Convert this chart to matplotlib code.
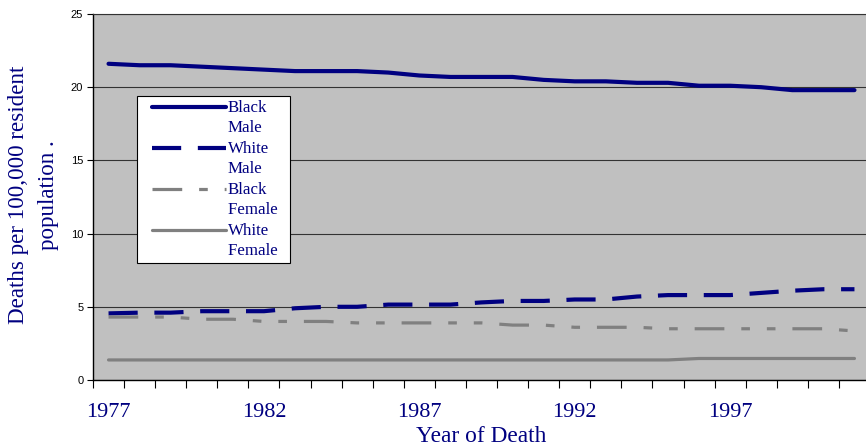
import matplotlib
matplotlib.use("Agg")
import numpy as np
import matplotlib.pyplot as plt
from matplotlib.legend_handler import HandlerLine2D

years = list(range(1977, 2002))
black_male = [21.6, 21.5, 21.5, 21.4, 21.3, 21.2, 21.1, 21.1, 21.1, 21.0, 20.8, 20.7, 20.7,
              20.7, 20.5, 20.4, 20.4, 20.3, 20.3, 20.1, 20.1, 20.0, 19.8, 19.8, 19.8]
white_male = [4.55, 4.6, 4.6, 4.7, 4.7, 4.7, 4.9, 5.0, 5.0, 5.15, 5.15, 5.15, 5.3,
              5.4, 5.4, 5.5, 5.5, 5.7, 5.8, 5.8, 5.8, 5.95, 6.1, 6.2, 6.2]
black_female = [4.3, 4.3, 4.3, 4.15, 4.15, 4.0, 4.0, 4.0, 3.9, 3.9, 3.9, 3.9, 3.9,
                3.75, 3.75, 3.6, 3.6, 3.6, 3.5, 3.5, 3.5, 3.5, 3.5, 3.5, 3.35]
white_female = [1.37] * 19 + [1.47] * 6
series_labels = ["Black\nMale", "White\nMale", "Black\nFemale  ", "White\nFemale  "]
yticks = [0, 5, 10, 15, 20, 25]
label_years = [1977, 1982, 1987, 1992, 1997]

navy = "#000080"
gray = "#808080"


class UpHandler(HandlerLine2D):
    def __init__(self, dx, dy, **kw):
        super().__init__(**kw)
        self.dx = dx
        self.dy = dy

    def create_artists(self, legend, orig_handle, xdescent, ydescent, width, height,
                       fontsize, trans):
        arts = super().create_artists(legend, orig_handle, xdescent, ydescent, width,
                                      height, fontsize, trans)
        for a in arts:
            xd = np.asarray(a.get_xdata(), dtype=float)
            x0, x1 = -xdescent, width - xdescent
            a.set_xdata(x0 + self.dx + (xd - x0) * (x1 - x0 - self.dx) / (x1 - x0))
            a.set_ydata(np.asarray(a.get_ydata(), dtype=float) + self.dy)
        return arts


fig = plt.figure(figsize=(8.66, 4.47), dpi=100)
W, H = 866, 447
left, right, bottom, top = 93, 870, 380, 14
ax = fig.add_axes([left / W, 1 - bottom / H, (right - left) / W, (bottom - top) / H])
ax.set_facecolor("#C0C0C0")

x = list(range(len(years)))
l1, = ax.plot(x, black_male, color=navy, lw=3.0, solid_capstyle="round")
l2, = ax.plot(x, white_male, color=navy, lw=3.0, dashes=(7, 4))
l3, = ax.plot(x, black_female, color=gray, lw=2.3, dashes=(9.3, 5.3, 2.7, 5.3, 2.7, 5.3))
l4, = ax.plot(x, white_female, color=gray, lw=2.3, solid_capstyle="round")

ax.set_xlim(-0.5, len(years) - 0.5)
ax.set_ylim(0, 25)
ax.set_yticks(yticks)
ax.set_yticklabels([str(v) for v in yticks], fontfamily="Liberation Sans", fontsize=8)
ax.yaxis.grid(True, color="#333333", lw=0.8)
ax.set_axisbelow(True)
ax.tick_params(axis="y", direction="out", length=4, width=0.8, pad=3)

ax.set_xticks([years.index(y) for y in label_years])
ax.set_xticklabels([str(y) for y in label_years], fontfamily="Liberation Serif",
                   fontsize=16, color=navy)
ax.set_xticks([i - 0.5 for i in range(len(years) + 1)], minor=True)
ax.tick_params(axis="x", which="major", length=0, pad=16.5)
ax.tick_params(axis="x", which="minor", direction="out", length=6, width=0.8)

for s in ["left", "bottom"]:
    ax.spines[s].set_color("black")
    ax.spines[s].set_linewidth(1.0)
ax.spines["top"].set_color("#333333")
ax.spines["top"].set_linewidth(0.8)
ax.spines["right"].set_visible(False)

ax.set_xlabel("Year of Death", fontfamily="Liberation Serif", fontsize=16.8,
              color=navy, labelpad=3)
fig.text(33.5 / W, 1 - 195 / H, "Deaths per 100,000 resident\npopulation .",
         rotation=90, ha="center", va="center", multialignment="center",
         fontfamily="Liberation Serif", fontsize=16.6, color=navy, linespacing=1.6)

handler = UpHandler(dx=7.5, dy=7.8)
leg = ax.legend([l1, l2, l3, l4], series_labels, loc="upper left",
                bbox_to_anchor=((137 - left) / (right - left), (bottom - 96) / (bottom - top)),
                prop={"family": "Liberation Serif", "size": 12.2},
                labelcolor=navy, frameon=True, fancybox=False, framealpha=1,
                edgecolor="black", handlelength=5.0, handletextpad=0.12,
                borderpad=0.25, labelspacing=0.32, borderaxespad=0,
                handler_map={l1: handler, l2: handler, l3: handler, l4: handler})
leg.get_frame().set_linewidth(0.8)
for t in leg.get_texts():
    t.set_linespacing(1.3)

fig.savefig("out.png", dpi=100)
